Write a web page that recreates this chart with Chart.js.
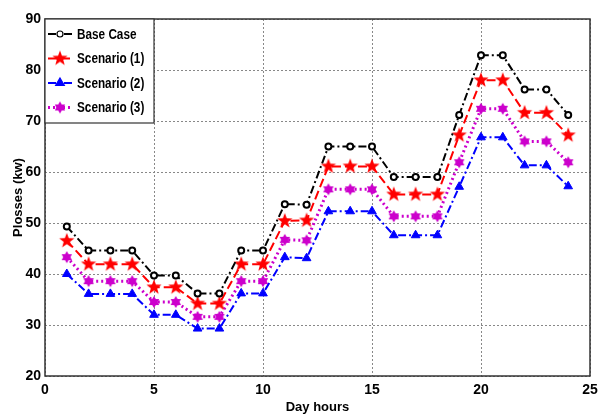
<!DOCTYPE html>
<html>
<head>
<meta charset="utf-8">
<script src="https://cdn.jsdelivr.net/npm/chart.js@4.4.1/dist/chart.umd.min.js"></script>
<style>
  html, body { margin: 0; padding: 0; background: #fff; }
</style>
</head>
<body>
<canvas id="ploss" width="604" height="415"></canvas>
<script>
{
    // hourly power losses (kW) per scenario
    const hours = [1, 2, 3, 4, 5, 6, 7, 8, 9, 10, 11, 12, 13, 14, 15, 16, 17, 18, 19, 20, 21, 22, 23, 24];
    const baseCase  = [49.3, 44.6, 44.6, 44.6, 39.7, 39.7, 36.2, 36.2, 44.6, 44.6, 53.7, 53.6, 65.0, 65.0, 65.0, 59.0, 59.0, 59.0, 71.2, 82.9, 82.9, 76.2, 76.2, 71.2];
    const scenario1 = [46.5, 41.9, 41.9, 41.9, 37.4, 37.4, 34.2, 34.2, 41.9, 41.9, 50.4, 50.5, 61.1, 61.1, 61.1, 55.6, 55.6, 55.6, 67.2, 78.0, 78.0, 71.6, 71.6, 67.2];
    const scenario2 = [40.0, 36.1, 36.1, 36.1, 32.0, 32.0, 29.3, 29.3, 36.2, 36.2, 43.3, 43.1, 52.3, 52.3, 52.3, 47.6, 47.6, 47.6, 57.1, 66.8, 66.8, 61.3, 61.3, 57.2];
    const scenario3 = [43.3, 38.6, 38.6, 38.6, 34.5, 34.5, 31.6, 31.6, 38.6, 38.6, 46.7, 46.6, 56.6, 56.6, 56.6, 51.3, 51.3, 51.3, 61.9, 72.4, 72.4, 66.0, 66.0, 61.9];
    const seriesNames = ['Base Case', 'Scenario (1)', 'Scenario (2)', 'Scenario (3)'];
    const xTicks = [0, 5, 10, 15, 20, 25];
    const yTicks = [20, 30, 40, 50, 60, 70, 80, 90];

    const FONT = "'Liberation Sans', Arial, sans-serif";

    // filled n-point star drawn once on a small canvas, used as a marker
    const starMarker = (points, outer, inner, color) => {
        const size = Math.ceil(outer * 2 + 2);
        const c = document.createElement('canvas');
        c.width = size; c.height = size;
        const g = c.getContext('2d');
        g.translate(size / 2, size / 2);
        g.beginPath();
        for (let i = 0; i < points * 2; i++) {
            const r = i % 2 === 0 ? outer : inner;
            const a = -Math.PI / 2 + i * Math.PI / points;
            g.lineTo(r * Math.cos(a), r * Math.sin(a));
        }
        g.closePath();
        g.fillStyle = color;
        g.fill();
        return c;
    };

    const toPoints = values => values.map((v, i) => ({x: hours[i], y: v}));

    const datasets = [
        {
            label: seriesNames[0], data: toPoints(baseCase),
            borderColor: '#000', borderWidth: 2, borderDash: [8, 3, 2, 3],
            pointStyle: 'circle', pointRadius: 3, pointBorderWidth: 2,
            pointBorderColor: '#000', pointBackgroundColor: '#fff'
        },
        {
            label: seriesNames[1], data: toPoints(scenario1),
            borderColor: '#ff0000', borderWidth: 2, borderDash: [9, 4],
            pointStyle: starMarker(5, 8, 3.3, '#ff0000'), pointRadius: 7
        },
        {
            label: seriesNames[2], data: toPoints(scenario2),
            borderColor: '#0000ff', borderWidth: 2, borderDash: [8, 3, 2, 3],
            pointStyle: 'triangle', pointRadius: 5, pointBorderWidth: 1,
            pointBorderColor: '#0000ff', pointBackgroundColor: '#0000ff'
        },
        {
            label: seriesNames[3], data: toPoints(scenario3),
            borderColor: '#cc00cc', borderWidth: 3, borderDash: [2, 3],
            pointStyle: starMarker(6, 6, 3.6, '#cc00cc'), pointRadius: 6
        }
    ];

    // full box around the plot area
    const frame = {
        id: 'frame',
        beforeDatasetsDraw(chart) {
            const {ctx, chartArea: a} = chart;
            ctx.save();
            ctx.strokeStyle = '#333';
            ctx.lineWidth = 1.5;
            ctx.strokeRect(a.left, a.top, a.right - a.left, a.bottom - a.top);
            ctx.restore();
        }
    };

    // boxed legend in the upper left corner of the plot
    const boxLegend = {
        id: 'boxLegend',
        afterDraw(chart) {
            const {ctx, chartArea: a} = chart;
            const x0 = a.left, y0 = a.top, w = 109, h = 104;
            ctx.save();
            ctx.fillStyle = '#fff';
            ctx.fillRect(x0, y0, w, h);
            ctx.strokeStyle = '#333';
            ctx.lineWidth = 1.2;
            ctx.strokeRect(x0, y0, w, h);
            chart.data.datasets.forEach((ds, i) => {
                const y = y0 + 15 + i * 24.5;
                ctx.save();
                ctx.strokeStyle = ds.borderColor;
                ctx.lineWidth = ds.borderWidth;
                ctx.setLineDash(ds.borderDash);
                ctx.beginPath();
                ctx.moveTo(x0 + 3, y);
                ctx.lineTo(x0 + 28, y);
                ctx.stroke();
                ctx.restore();
                ctx.fillStyle = ds.pointBackgroundColor || ds.borderColor;
                ctx.strokeStyle = ds.pointBorderColor || ds.borderColor;
                Chart.helpers.drawPoint(ctx, {
                    pointStyle: ds.pointStyle, radius: ds.pointRadius, rotation: 0,
                    borderWidth: ds.pointBorderWidth || 1
                }, x0 + 15, y);
                // narrow bold label text
                ctx.save();
                ctx.translate(x0 + 32, y + 1);
                ctx.scale(0.84, 1);
                ctx.fillStyle = '#000';
                ctx.font = 'bold 14px ' + FONT;
                ctx.textBaseline = 'middle';
                ctx.fillText(ds.label, 0, 0);
                ctx.restore();
            });
            ctx.restore();
        }
    };

    const gridOpts = {color: '#888', lineWidth: 1, drawTicks: false, borderDash: [2, 2]};
    const borderOpts = {display: false, dash: [2, 2]};

    document.addEventListener('DOMContentLoaded', () => {
        const ctx = document.getElementById('ploss');
        Chart.defaults.font.family = FONT;
        Chart.defaults.color = '#000';

        new Chart(ctx, {
            type: 'line',
            data: {datasets},
            options: {
                responsive: false,
                animation: false,
                layout: {padding: {top: 19, right: 14, left: 0, bottom: 0}},
                plugins: {legend: {display: false}, tooltip: {enabled: false}},
                scales: {
                    x: {
                        type: 'linear', min: xTicks[0], max: xTicks[xTicks.length - 1],
                        afterBuildTicks: s => { s.ticks = xTicks.map(v => ({value: v})); },
                        ticks: {font: {size: 14, weight: 'bold'}, padding: 6, maxRotation: 0},
                        grid: gridOpts, border: borderOpts,
                        title: {display: true, text: 'Day hours', font: {size: 13, weight: 'bold'}, padding: {top: 0, bottom: 0}},
                        afterFit: s => { s.height = 39; }
                    },
                    y: {
                        min: yTicks[0], max: yTicks[yTicks.length - 1],
                        afterBuildTicks: s => { s.ticks = yTicks.map(v => ({value: v})); },
                        ticks: {font: {size: 14, weight: 'bold'}, padding: 4},
                        grid: gridOpts, border: borderOpts,
                        title: {display: true, text: 'Plosses (kw)', font: {size: 13, weight: 'bold'}, padding: {top: 11, bottom: 0}},
                        afterFit: s => { s.width = 45; }
                    }
                }
            },
            plugins: [frame, boxLegend]
        });
    });
}
</script>
</body>
</html>
